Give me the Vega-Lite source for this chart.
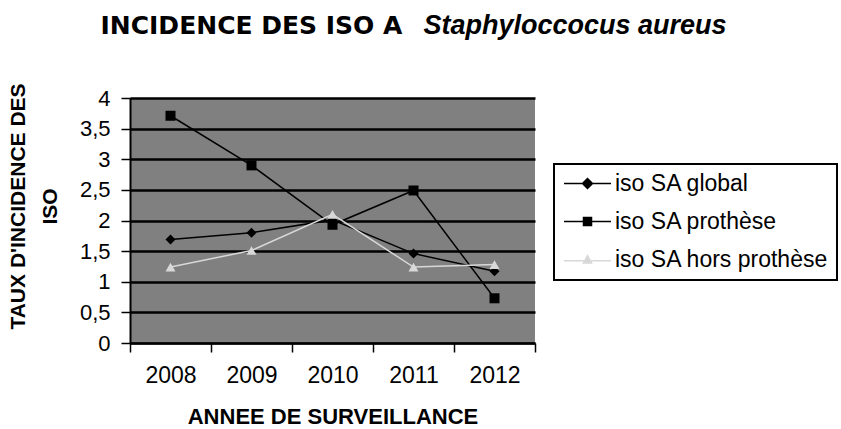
{
  "$schema": "https://vega.github.io/schema/vega-lite/v6.json",
  "width": 405,
  "height": 245,
  "autosize": "none",
  "padding": {"left": 130, "top": 98, "right": 306, "bottom": 86},
  "background": "white",
  "config": {
    "font": "Liberation Sans",
    "view": {"fill": "#808080", "stroke": null}
  },
  "data": {
    "values": [
      {"year": "2008", "series": "iso SA global", "value": 1.69},
      {"year": "2009", "series": "iso SA global", "value": 1.8},
      {"year": "2010", "series": "iso SA global", "value": 2.01},
      {"year": "2011", "series": "iso SA global", "value": 1.46},
      {"year": "2012", "series": "iso SA global", "value": 1.17},
      {"year": "2008", "series": "iso SA prothèse", "value": 3.71},
      {"year": "2009", "series": "iso SA prothèse", "value": 2.9},
      {"year": "2010", "series": "iso SA prothèse", "value": 1.93},
      {"year": "2011", "series": "iso SA prothèse", "value": 2.49},
      {"year": "2012", "series": "iso SA prothèse", "value": 0.73},
      {"year": "2008", "series": "iso SA hors prothèse", "value": 1.24},
      {"year": "2009", "series": "iso SA hors prothèse", "value": 1.51},
      {"year": "2010", "series": "iso SA hors prothèse", "value": 2.1},
      {"year": "2011", "series": "iso SA hors prothèse", "value": 1.24},
      {"year": "2012", "series": "iso SA hors prothèse", "value": 1.28}
    ]
  },
  "encoding": {
    "y": {
      "field": "value",
      "type": "quantitative",
      "scale": {"domain": [0, 4], "nice": false},
      "axis": {
        "title": ["TAUX D'INCIDENCE DES", "ISO"],
        "titleFont": "Liberation Sans",
        "titleFontSize": 21,
        "titleFontWeight": "bold",
        "titleColor": "black",
        "titleAngle": -90,
        "titleAlign": "center",
        "titleBaseline": "alphabetic",
        "titleLineHeight": 32,
        "titleX": -106,
        "titleY": 108,
        "values": [0, 0.5, 1, 1.5, 2, 2.5, 3, 3.5, 4],
        "labelExpr": "replace(format(datum.value, '~g'), '.', ',')",
        "labelFontSize": 22,
        "labelColor": "black",
        "labelPadding": 11,
        "tickColor": "black",
        "tickWidth": 1.5,
        "tickSize": 9,
        "domainColor": "black",
        "domainWidth": 2,
        "grid": true,
        "gridColor": "black",
        "gridWidth": 2.5,
        "gridOpacity": 1
      }
    },
    "color": {
      "field": "series",
      "type": "nominal",
      "scale": {
        "domain": ["iso SA global", "iso SA prothèse", "iso SA hors prothèse"],
        "range": ["#000000", "#000000", "#d8d8d8"]
      },
      "legend": {
        "title": null,
        "orient": "none",
        "legendX": 424,
        "legendY": 66,
        "strokeColor": "black",
        "fillColor": "white",
        "padding": 8,
        "labelFontSize": 23,
        "labelColor": "black",
        "rowPadding": 14,
        "symbolSize": 100,
        "symbolOffset": 14,
        "labelOffset": 16,
        "labelLimit": 400,
        "encode": {
          "legend": {"update": {"strokeWidth": {"value": 2}}},
          "symbols": {
            "update": {
              "shape": {"signal": "datum.value === 'iso SA global' ? 'M-4.7,0H-1L0,-1L1,0H4.7M1,0L0,1L-1,0Z' : datum.value === 'iso SA prothèse' ? 'M-4.7,0H-0.8V-0.8H0.8V0H4.7M0.8,0V0.8H-0.8V0Z' : 'M-4.7,0.25H-0.55L0,-0.8L0.55,0.25H4.7M0.55,0.25L0.8,0.7H-0.8L-0.55,0.25Z'"},
              "fill": {"scale": "color", "field": "value"},
              "stroke": {"scale": "color", "field": "value"},
              "strokeWidth": {"value": 1.5},
              "opacity": {"value": 1}
            }
          }
        }
      }
    }
  },
  "layer": [
    {
      "mark": {"type": "line", "strokeWidth": 1.5},
      "encoding": {
        "x": {
          "field": "year",
          "type": "nominal",
          "scale": {"paddingInner": 0, "paddingOuter": 0},
          "axis": {
            "title": "ANNEE DE SURVEILLANCE",
            "titleFontSize": 22,
            "titleFontWeight": "bold",
            "titleColor": "black",
            "titleBaseline": "alphabetic",
            "titleX": 202.5,
            "titleY": 80,
            "labelAngle": 0,
            "labelFontSize": 23,
            "labelColor": "black",
            "labelPadding": 12,
            "tickBand": "extent",
            "tickColor": "black",
            "tickWidth": 1.5,
            "tickSize": 9,
            "domainColor": "black",
            "domainWidth": 2,
            "grid": false
          }
        }
      }
    },
    {
      "transform": [{"filter": "datum.series === 'iso SA global'"}],
      "mark": {"type": "point", "shape": "diamond", "filled": true, "opacity": 1, "size": 100},
      "encoding": {
        "x": {
          "field": "year",
          "type": "nominal",
          "axis": {
            "orient": "top",
            "labels": false,
            "ticks": false,
            "domain": false,
            "grid": false,
            "title": "INCIDENCE DES ISO A",
            "titleFont": "DejaVu Sans",
            "titleFontSize": 25,
            "titleFontWeight": "bold",
            "titleColor": "black",
            "titleAnchor": "start",
            "titleAlign": "left",
            "titleBaseline": "alphabetic",
            "titleX": -30,
            "titleY": -65
          }
        }
      }
    },
    {
      "transform": [{"filter": "datum.series === 'iso SA prothèse'"}],
      "mark": {"type": "point", "shape": "square", "filled": true, "opacity": 1, "size": 100},
      "encoding": {
        "x": {
          "field": "year",
          "type": "nominal",
          "axis": {
            "orient": "top",
            "labels": false,
            "ticks": false,
            "domain": false,
            "grid": false,
            "title": "Staphyloccocus aureus",
            "titleFont": "Liberation Sans",
            "titleFontSize": 27,
            "titleFontWeight": "bold",
            "titleFontStyle": "italic",
            "titleColor": "black",
            "titleAnchor": "start",
            "titleAlign": "left",
            "titleBaseline": "alphabetic",
            "titleX": 293,
            "titleY": -65
          }
        }
      }
    },
    {
      "transform": [{"filter": "datum.series === 'iso SA hors prothèse'"}],
      "mark": {"type": "point", "shape": "triangle-up", "filled": true, "opacity": 1, "size": 100},
      "encoding": {
        "x": {"field": "year", "type": "nominal", "axis": null}
      }
    }
  ],
  "resolve": {"axis": {"x": "independent"}}
}
